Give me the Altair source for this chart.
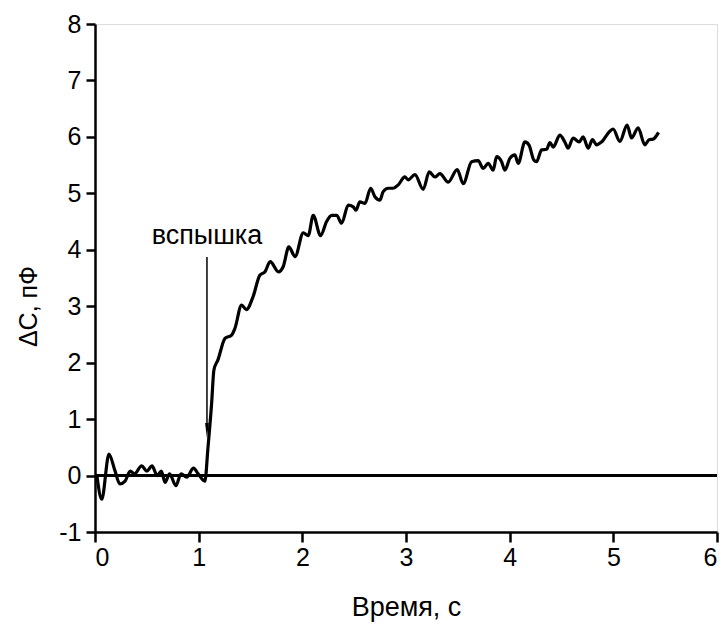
import altair as alt
import pandas as pd

# time (s) and capacitance change (pF)
time_s = [0.02, 0.065, 0.135, 0.19, 0.24, 0.29, 0.34, 0.38, 0.45, 0.50, 0.55, 0.60, 0.64, 0.675,
          0.72, 0.78, 0.83, 0.885, 0.95, 0.995, 1.06, 1.09, 1.125, 1.147, 1.186, 1.254, 1.318,
          1.35, 1.414, 1.46, 1.525, 1.59, 1.64, 1.69, 1.77, 1.815, 1.87, 1.93, 2.009, 2.057,
          2.105, 2.176, 2.234, 2.283, 2.331, 2.379, 2.443, 2.491, 2.517, 2.555, 2.604, 2.659,
          2.700, 2.748, 2.780, 2.828, 2.877, 2.925, 2.989, 3.021, 3.086, 3.166, 3.224, 3.279,
          3.327, 3.407, 3.494, 3.552, 3.633, 3.696, 3.745, 3.793, 3.841, 3.874, 3.922, 3.954,
          4.002, 4.050, 4.082, 4.147, 4.188, 4.233, 4.259, 4.308, 4.356, 4.388, 4.420, 4.484,
          4.532, 4.564, 4.612, 4.670, 4.709, 4.757, 4.799, 4.838, 4.886, 4.966, 4.998, 5.063,
          5.133, 5.176, 5.239, 5.304, 5.345, 5.384, 5.436]
delta_c = [-0.02, -0.42, 0.38, 0.10, -0.15, -0.10, 0.08, 0.03, 0.17, 0.08, 0.17, 0.00, 0.08, -0.12,
           0.03, -0.18, 0.03, -0.03, 0.13, 0.03, -0.10, 0.50, 1.28, 1.87, 2.05, 2.43, 2.49,
           2.61, 3.02, 2.94, 3.17, 3.55, 3.61, 3.79, 3.61, 3.70, 4.05, 3.88, 4.30, 4.25,
           4.61, 4.25, 4.50, 4.61, 4.61, 4.47, 4.79, 4.76, 4.70, 4.85, 4.82, 5.09,
           4.94, 4.88, 5.03, 5.09, 5.09, 5.15, 5.29, 5.24, 5.33, 5.07, 5.38, 5.29,
           5.35, 5.20, 5.42, 5.17, 5.56, 5.58, 5.44, 5.53, 5.41, 5.65, 5.56, 5.41,
           5.62, 5.68, 5.53, 5.91, 5.85, 5.59, 5.56, 5.77, 5.78, 5.90, 5.82, 6.03,
           5.91, 5.80, 5.98, 5.91, 6.00, 5.80, 5.95, 5.86, 5.91, 6.10, 6.14, 5.92,
           6.21, 5.98, 6.16, 5.86, 5.95, 5.96, 6.08]

x_ticks = [0, 1, 2, 3, 4, 5, 6]
y_ticks = [-1, 0, 1, 2, 3, 4, 5, 6, 7, 8]

# annotation ("flash" arrow)
arrow_t = [1.08]
arrow_top = [3.87]
arrow_head = [0.80]
label_t = [1.08]
label_v = [4.25]
label_text = ["вспышка"]

FONT = "Liberation Sans"

df = pd.DataFrame({"t": time_s, "c": delta_c})
arrow_df = pd.DataFrame({"t": arrow_t, "top": arrow_top, "head": arrow_head})
label_df = pd.DataFrame({"t": label_t, "v": label_v, "text": label_text})

xs = alt.Scale(domain=[0, 6], nice=False, zero=False)
ys = alt.Scale(domain=[-1, 8], nice=False, zero=False)

x_axis = alt.Axis(values=x_ticks, title="Время, с", grid=False, domainColor="black",
                  domainWidth=2.5, tickColor="black", tickWidth=2.5, tickSize=10,
                  labelExpr="'' + datum.value",
                  labelFont=FONT, labelFontSize=25, labelColor="black", labelPadding=3,
                  titleFont=FONT, titleFontSize=27, titleFontWeight="normal", titleColor="black",
                  titleY=75, titleBaseline="middle")
y_axis = alt.Axis(values=y_ticks, title="ΔC, пФ", grid=False, domainColor="black",
                  domainWidth=2.5, tickColor="black", tickWidth=2.5, tickSize=9,
                  labelExpr="'' + datum.value",
                  labelFont=FONT, labelFontSize=25, labelColor="black", labelPadding=5,
                  titleFont=FONT, titleFontSize=25, titleFontWeight="normal", titleColor="black",
                  titleX=-67, titleY=282, titleBaseline="middle", titleAlign="center")

line = alt.Chart(df).mark_line(color="black", strokeWidth=3.2, strokeJoin="round",
                               interpolate="monotone").encode(
    x=alt.X("t:Q", scale=xs, axis=x_axis),
    y=alt.Y("c:Q", scale=ys, axis=y_axis),
)

zero = alt.Chart(df).mark_rule(color="black", strokeWidth=2.5).encode(
    y=alt.datum(0, scale=ys), x=alt.value(0), x2=alt.value(622)
)

shaft = alt.Chart(arrow_df).mark_rule(color="black", strokeWidth=1.5).encode(
    x=alt.X("t:Q", scale=xs), y=alt.Y("top:Q", scale=ys), y2="head:Q"
)
head = alt.Chart(arrow_df).mark_point(
    shape="M-0.25,-1L0.25,-1L0,1Z", filled=True, color="black", opacity=1, size=225
).encode(x=alt.X("t:Q", scale=xs), y=alt.Y("head:Q", scale=ys))

label = alt.Chart(label_df).mark_text(font=FONT, fontSize=27, color="black",
                                      baseline="middle", align="center").encode(
    x=alt.X("t:Q", scale=xs), y=alt.Y("v:Q", scale=ys), text="text:N"
)

chart = alt.layer(zero, line, shaft, head, label).properties(
    width=622, height=508,
    autosize=alt.AutoSizeParams(type="none"),
    padding={"left": 95, "top": 24, "right": 10, "bottom": 92},
).configure_view(stroke=None).configure(background="white")

chart.save("out.html", embed_options={"renderer": "svg", "actions": False})
